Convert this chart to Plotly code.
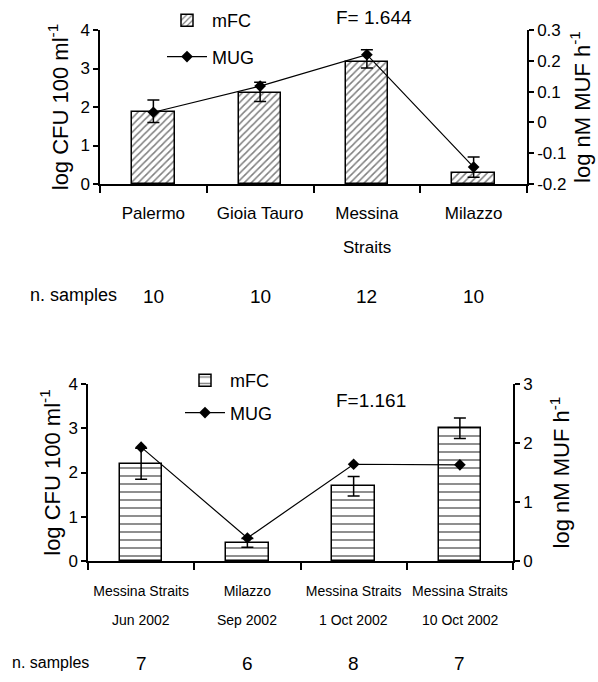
import plotly.graph_objects as go

# ---------------- data ----------------
# top panel
top_categories = ["Palermo", "Gioia Tauro", "Messina Straits", "Milazzo"]
top_label_line1 = ["Palermo", "Gioia Tauro", "Messina", "Milazzo"]
top_label_line2 = ["", "", "Straits", ""]
top_mfc = [1.87, 2.36, 3.17, 0.29]
top_mug = [0.033, 0.118, 0.22, -0.145]
top_mug_err_plus = [0.04, 0.012, 0.016, 0.033]
top_mug_err_minus = [0.033, 0.05, 0.043, 0.033]
top_n_samples = ["10", "10", "12", "10"]
top_F = "F= 1.644"

# bottom panel
bot_categories = ["Messina Straits Jun 2002", "Milazzo Sep 2002",
                  "Messina Straits 1 Oct 2002", "Messina Straits 10 Oct 2002"]
bot_label_line1 = ["Messina Straits", "Milazzo", "Messina Straits", "Messina Straits"]
bot_label_line2 = ["Jun 2002", "Sep 2002", "1 Oct 2002", "10 Oct 2002"]
bot_mfc = [2.2, 0.41, 1.69, 3.0]
bot_mfc_err = [0.35, 0.1, 0.22, 0.23]
bot_mug = [1.93, 0.39, 1.64, 1.63]
bot_n_samples = ["7", "6", "8", "7"]
bot_F = "F=1.161"

left_title = "log CFU 100 ml<sup>-1</sup>"
right_title = "log nM MUF h<sup>-1</sup>"

top_right_ticks = [-0.2, -0.1, 0, 0.1, 0.2, 0.3]
top_right_ticktext = ["-0.2", "-0.1", "0", "0.1", "0.2", "0.3"]

# ---------------- style ----------------
W, H = 598, 682
FONT = "Liberation Sans, Arial, sans-serif"
BLACK = "#000000"


def px_x(p):
    return p / W


def px_y(p):
    return 1 - p / H


def f(size):
    return dict(family=FONT, size=size, color=BLACK)


fig = go.Figure()

# ---- top panel traces ----
fig.add_trace(go.Bar(
    x=top_categories, y=top_mfc, name="mFC", width=0.4,
    marker=dict(color="white", line=dict(color=BLACK, width=1.5),
                pattern=dict(shape="/", fgcolor=BLACK, bgcolor="white",
                             size=5, solidity=0.3)),
    xaxis="x", yaxis="y", legend="legend", legendgroup="a",
))
fig.add_trace(go.Scatter(
    x=top_categories, y=top_mug, name="MUG", mode="lines+markers",
    line=dict(color=BLACK, width=1.2),
    marker=dict(symbol="diamond", size=9, color=BLACK),
    error_y=dict(type="data", symmetric=False, array=top_mug_err_plus,
                 arrayminus=top_mug_err_minus, color=BLACK, thickness=1.5, width=6),
    xaxis="x", yaxis="y2", legend="legend", legendgroup="b",
))

# ---- bottom panel traces ----
fig.add_trace(go.Bar(
    x=bot_categories, y=bot_mfc, name="mFC", width=0.4,
    marker=dict(color="white", line=dict(color=BLACK, width=1.5),
                pattern=dict(shape="-", fgcolor=BLACK, bgcolor="white",
                             size=8, solidity=0.22)),
    error_y=dict(type="data", array=bot_mfc_err, color=BLACK, thickness=1.5, width=6),
    xaxis="x2", yaxis="y3", legend="legend2", legendgroup="c",
))
fig.add_trace(go.Scatter(
    x=bot_categories, y=bot_mug, name="MUG", mode="lines+markers",
    line=dict(color=BLACK, width=1.2),
    marker=dict(symbol="diamond", size=9, color=BLACK),
    xaxis="x2", yaxis="y4", legend="legend2", legendgroup="d",
))

xcommon = dict(showline=True, linecolor=BLACK, linewidth=1.5, ticks="outside",
               tickson="boundaries", ticklen=7, tickwidth=1.5, tickcolor=BLACK,
               showgrid=False, zeroline=False, range=[-0.5, 3.5], fixedrange=True,
               automargin=False, tickangle=0)
ycommon = dict(showline=True, linecolor=BLACK, linewidth=1.5, ticks="outside",
               ticklen=5, tickwidth=1.5, tickcolor=BLACK, showgrid=False,
               zeroline=False, tickfont=f(17), fixedrange=True, automargin=False)

fig.update_layout(
    width=W, height=H,
    margin=dict(l=0, r=0, t=0, b=0, autoexpand=False),
    paper_bgcolor="white", plot_bgcolor="white",
    font=f(17),
    bargap=0,
    xaxis=dict(xcommon, domain=[px_x(100), px_x(527)], anchor="y",
               tickvals=top_categories, ticktext=top_label_line1,
               tickfont=f(17), ticklabelstandoff=13),
    yaxis=dict(ycommon, domain=[px_y(184), px_y(30)], anchor="x",
               range=[0, 4], dtick=1,
               title=dict(text=left_title, font=f(22), standoff=6)),
    yaxis2=dict(ycommon, overlaying="y", side="right", anchor="x",
                range=[-0.2, 0.3], tickvals=top_right_ticks,
                ticktext=top_right_ticktext,
                title=dict(text=right_title, font=f(22), standoff=2)),
    xaxis2=dict(xcommon, domain=[px_x(88), px_x(513)], anchor="y3",
                tickvals=bot_categories, ticktext=bot_label_line1,
                tickfont=f(14), ticklabelstandoff=16),
    yaxis3=dict(ycommon, domain=[px_y(561), px_y(384)], anchor="x2",
                range=[0, 4], dtick=1,
                title=dict(text=left_title, font=f(22), standoff=2)),
    yaxis4=dict(ycommon, overlaying="y3", side="right", anchor="x2",
                range=[0, 3], dtick=1,
                title=dict(text=right_title, font=f(22), standoff=22)),
    legend=dict(x=px_x(162), y=px_y(2), xanchor="left", yanchor="top",
                bgcolor="rgba(0,0,0,0)", font=f(18),
                tracegroupgap=10, traceorder="grouped", itemwidth=40),
    legend2=dict(x=px_x(180), y=px_y(362), xanchor="left", yanchor="top",
                 bgcolor="rgba(0,0,0,0)", font=f(18),
                 tracegroupgap=6, traceorder="grouped", itemwidth=40),
    showlegend=True,
)

annotations = []


def ann(text, x, y, size, xref="paper", xanchor="center"):
    annotations.append(dict(text=text, x=x, y=y, xref=xref, yref="paper",
                            xanchor=xanchor, yanchor="middle",
                            showarrow=False, font=f(size)))


# F statistics
ann(top_F, px_x(374), px_y(18), 19)
ann(bot_F, px_x(371), px_y(400), 19)
# second lines of category labels
for cat, line2 in zip(top_categories, top_label_line2):
    if line2:
        ann(line2, cat, px_y(247), 17, xref="x")
for cat, line2 in zip(bot_categories, bot_label_line2):
    ann(line2, cat, px_y(620), 14, xref="x2")
# n. samples rows
ann("n. samples", px_x(28), px_y(295), 18, xanchor="left")
for cat, n in zip(top_categories, top_n_samples):
    ann(n, cat, px_y(296), 19, xref="x")
ann("n. samples", px_x(10), px_y(662), 16, xanchor="left")
for cat, n in zip(bot_categories, bot_n_samples):
    ann(n, cat, px_y(663), 19, xref="x2")

fig.update_layout(annotations=annotations)

fig.write_html("out.html")
